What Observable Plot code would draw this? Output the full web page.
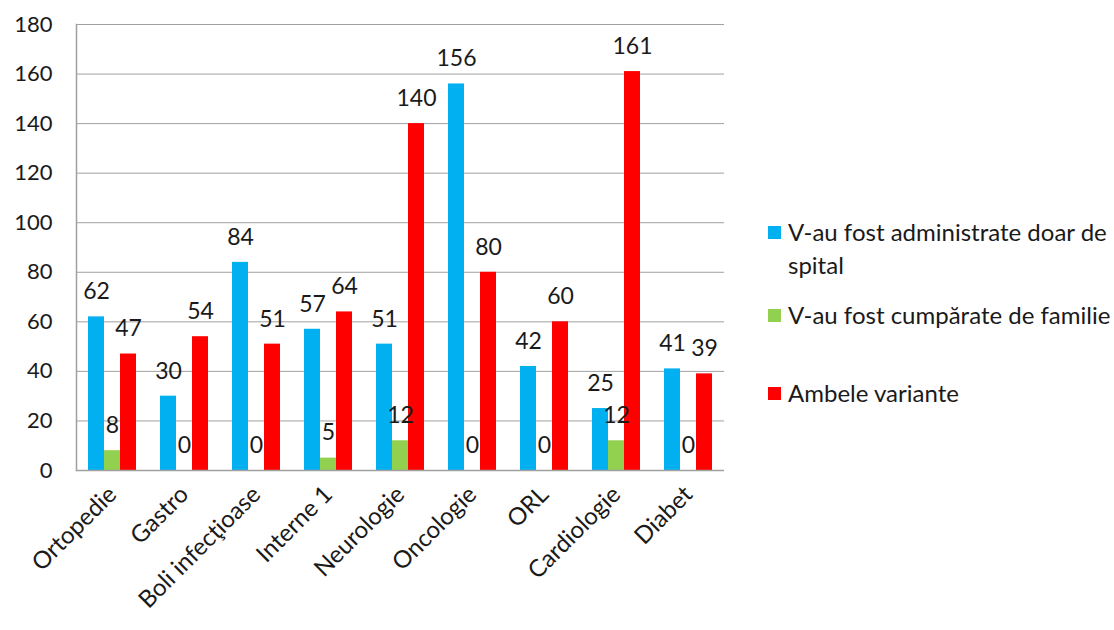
<!DOCTYPE html>
<html>
<head>
<meta charset="utf-8">
<script src="https://cdn.jsdelivr.net/npm/d3@7"></script>
<script src="https://cdn.jsdelivr.net/npm/@observablehq/plot@0.6"></script>
<style>
  html, body { margin: 0; padding: 0; background: #fff; }
  #wrap { position: relative; width: 1114px; height: 630px; font-family: Lato, "Open Sans", sans-serif; color: #1a1a1a; }
  #chart { position: absolute; left: 0; top: 0; }
  #legend { position: absolute; left: 768px; top: 215px; font-size: 24px; line-height: 33px; white-space: nowrap; }
  .item { position: relative; padding-left: 20px; }
  .sw { position: absolute; left: 0; top: 11px; width: 13px; height: 13px; }
</style>
</head>
<body>
<div id="wrap">
  <div id="chart"></div>
  <div id="legend"></div>
</div>
<script>
const categories = ["Ortopedie", "Gastro", "Boli infecţioase", "Interne 1", "Neurologie", "Oncologie", "ORL", "Cardiologie", "Diabet"];
const seriesNames = ["V-au fost administrate doar de spital", "V-au fost cumpărate de familie", "Ambele variante"];
const hospitalOnly = [62, 30, 84, 57, 51, 156, 42, 25, 41];
const familyBought = [8, 0, 0, 5, 12, 0, 0, 12, 0];
const bothVariants = [47, 54, 51, 64, 140, 80, 60, 161, 39];
const seriesColors = ["#00B0F0", "#92D050", "#FF0000"];
const yTicks = [0, 20, 40, 60, 80, 100, 120, 140, 160, 180];

const seriesValues = [hospitalOnly, familyBought, bothVariants];
const data = categories.flatMap((c, i) => seriesNames.map((s, j) => ({cat: c, series: s, value: seriesValues[j][i]})));

const chart = Plot.plot({
  width: 740,
  height: 630,
  marginTop: 24,
  marginBottom: 160,
  marginLeft: 72,
  marginRight: 13,
  style: {fontFamily: "Lato, 'Open Sans', sans-serif", fontSize: "22px", color: "#1a1a1a", background: "transparent", overflow: "visible"},
  fx: {domain: categories, padding: 0, label: null, tickRotate: -45, tickSize: 0, tickPadding: 20},
  x: {domain: seriesNames, axis: null, paddingInner: 0, paddingOuter: 0.7},
  y: {domain: [0, 180], ticks: yTicks, label: null, tickSize: 0, tickPadding: 24},
  color: {domain: seriesNames, range: seriesColors},
  marks: [
    Plot.ruleY(yTicks, {stroke: "#a0a0a0", strokeWidth: 1}),
    Plot.barY(data, {fx: "cat", x: "series", y: "value", fill: "series"}),
    Plot.text(data, {fx: "cat", x: "series", y: "value", text: d => String(d.value), lineAnchor: "middle", dy: -25, fill: "#1a1a1a", fontSize: 23}),
    Plot.ruleY([0], {stroke: "#a0a0a0", strokeWidth: 1.5}),
    Plot.frame({anchor: "left", stroke: "#a0a0a0", strokeWidth: 1.5, fx: [categories[0]]})
  ]
});
document.getElementById("chart").appendChild(chart);

// enlarge category labels (fx axis) to match reference
d3.select(chart).selectAll("g[aria-label='fx-axis'] text, g[aria-label='fx-axis tick label'] text").style("font-size", "24px");

const legend = document.getElementById("legend");
const gaps = [0, 17, 45];
seriesNames.forEach((s, i) => {
  const item = document.createElement("div");
  item.className = "item";
  item.style.marginTop = gaps[i] + "px";
  const sw = document.createElement("span");
  sw.className = "sw";
  sw.style.background = seriesColors[i];
  item.appendChild(sw);
  const txt = document.createElement("span");
  if (i === 0) {
    txt.innerHTML = "V-au fost administrate doar de<br>spital";
  } else {
    txt.textContent = s;
  }
  item.appendChild(txt);
  legend.appendChild(item);
});
</script>
</body>
</html>
